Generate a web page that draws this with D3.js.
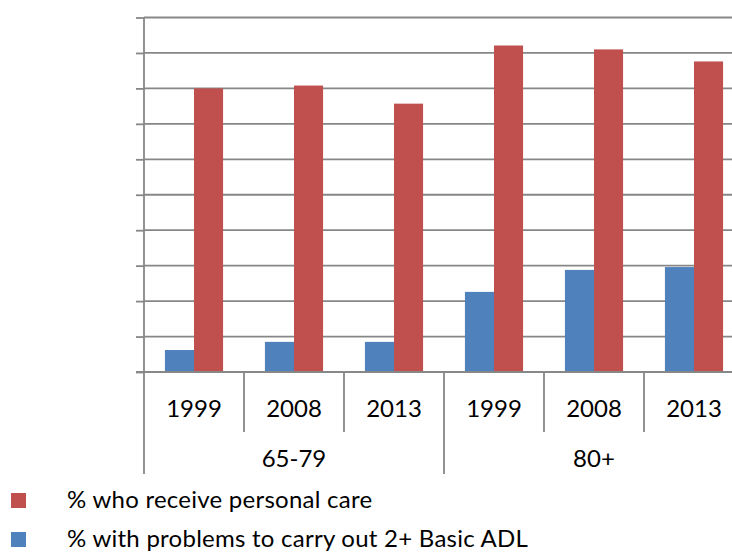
<!DOCTYPE html>
<html>
<head>
<meta charset="utf-8">
<script src="https://cdn.jsdelivr.net/npm/d3@7"></script>
<style>
  html, body { margin: 0; padding: 0; background: #fff; }
  svg { display: block; }
  text { font-family: Lato, "Open Sans", sans-serif; fill: #000; }
</style>
</head>
<body>
<svg id="chart" width="732" height="552"></svg>
<script>
// ---- data ----
const groups = ["65-79", "80+"];
const years = ["1999", "2008", "2013"];
const seriesNames = ["% with problems to carry out 2+ Basic ADL", "% who receive personal care"];
const adlValues = [6.2, 8.5, 8.5, 22.6, 28.8, 29.6];
const careValues = [80.0, 80.8, 75.7, 92.1, 91.0, 87.6];
const yTicks = [0, 10, 20, 30, 40, 50, 60, 70, 80, 90, 100];
const legendOrder = ["% who receive personal care", "% with problems to carry out 2+ Basic ADL"];

const colors = {
  "% who receive personal care": "#C0504D",
  "% with problems to carry out 2+ Basic ADL": "#4F81BD"
};
const gridColor = "#878787";

// build table
const categories = [];
groups.forEach(g => years.forEach(y => categories.push({ group: g, year: y, key: g + "|" + y })));
const rows = categories.map((c, i) => ({
  ...c,
  values: [
    { name: seriesNames[0], value: adlValues[i] },
    { name: seriesNames[1], value: careValues[i] }
  ]
}));

const svg = d3.select("#chart");
const plotLeft = 144, plotRight = 744, plotTop = 17.5, plotBottom = 372;

const y = d3.scaleLinear().domain([0, 100]).range([plotBottom, plotTop]);
const x0 = d3.scaleBand().domain(categories.map(c => c.key)).range([plotLeft, plotRight]).padding(0);
const x1 = d3.scaleBand().domain(seriesNames).range([0, x0.bandwidth()]).paddingInner(0).paddingOuter(0.72);
const xg = d3.scaleBand().domain(groups).range([plotLeft, plotRight]).padding(0);

// gridlines + y ticks
const yAxis = d3.axisLeft(y).tickValues(yTicks).tickSize(8).tickFormat("");
const gy = svg.append("g").attr("transform", `translate(${plotLeft},0)`).call(yAxis);
gy.select(".domain").remove();
gy.selectAll(".tick line").attr("stroke", gridColor).attr("stroke-width", 1.8);

svg.append("g").selectAll("line").data(yTicks.slice(1)).join("line")
  .attr("x1", plotLeft).attr("x2", plotRight)
  .attr("y1", d => y(d)).attr("y2", d => y(d))
  .attr("stroke", gridColor).attr("stroke-width", 1.8);

// bars
const cat = svg.append("g").selectAll("g").data(rows).join("g")
  .attr("transform", d => `translate(${x0(d.key)},0)`);
cat.selectAll("rect").data(d => d.values).join("rect")
  .attr("x", d => x1(d.name))
  .attr("width", x1.bandwidth())
  .attr("y", d => y(d.value))
  .attr("height", d => y(0) - y(d.value))
  .attr("fill", d => colors[d.name]);

// y axis line
svg.append("line")
  .attr("x1", plotLeft).attr("x2", plotLeft)
  .attr("y1", plotTop).attr("y2", plotBottom)
  .attr("stroke", gridColor).attr("stroke-width", 1.8);

// x axis baseline
svg.append("line")
  .attr("x1", plotLeft - 8).attr("x2", plotRight)
  .attr("y1", plotBottom).attr("y2", plotBottom)
  .attr("stroke", gridColor).attr("stroke-width", 1.8);

// year separators (short)
svg.append("g").selectAll("line").data(categories.filter(c => c.year !== years[0])).join("line")
  .attr("x1", d => x0(d.key)).attr("x2", d => x0(d.key))
  .attr("y1", plotBottom).attr("y2", 432)
  .attr("stroke", gridColor).attr("stroke-width", 1.8);

// group separators (long)
const groupEdges = groups.map(g => xg(g)).concat([plotRight]);
svg.append("g").selectAll("line").data(groupEdges).join("line")
  .attr("x1", d => d).attr("x2", d => d)
  .attr("y1", plotBottom).attr("y2", 474)
  .attr("stroke", gridColor).attr("stroke-width", 1.8);

// year labels
svg.append("g").selectAll("text").data(categories).join("text")
  .attr("x", d => x0(d.key) + x0.bandwidth() / 2)
  .attr("y", 417)
  .attr("text-anchor", "middle")
  .attr("font-size", 24)
  .text(d => d.year);

// group labels
svg.append("g").selectAll("text").data(groups).join("text")
  .attr("x", d => xg(d) + xg.bandwidth() / 2)
  .attr("y", 467)
  .attr("text-anchor", "middle")
  .attr("font-size", 24)
  .text(d => d);

// legend
const lg = svg.append("g").selectAll("g").data(legendOrder).join("g")
  .attr("transform", (d, i) => `translate(0,${i * 39})`);
lg.append("rect").attr("x", 11).attr("y", 493).attr("width", 15).attr("height", 15)
  .attr("fill", d => colors[d]);
lg.append("text").attr("x", 67).attr("y", 508).attr("font-size", 24)
  .attr("letter-spacing", 0.25)
  .text(d => d);
</script>
</body>
</html>
